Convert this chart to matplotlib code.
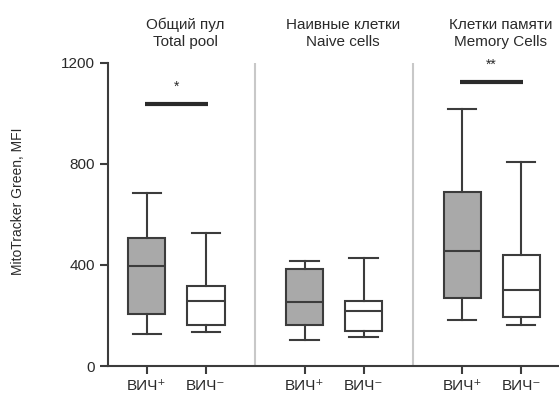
import numpy as np
import matplotlib.pyplot as plt

plt.rcParams['font.family'] = ['Liberation Sans Narrow', 'Liberation Sans', 'DejaVu Sans']

# data: whisker low, Q1, median, Q3, whisker high
groups = ['Общий пул\nTotal pool', 'Наивные клетки\nNaive cells', 'Клетки памяти\nMemory Cells']
tick_labels = ['ВИЧ⁺', 'ВИЧ⁻'] * 3
hiv_pos = [[127, 206, 396, 508, 685],
           [103, 162, 252, 384, 415],
           [182, 270, 455, 689, 1019]]
hiv_neg = [[133, 162, 259, 317, 528],
           [116, 139, 218, 259, 426],
           [162, 193, 301, 438, 807]]
sig_marks = ['*', '', '**']
sig_levels = [1036, None, 1123]

line_c = '#3c3c3c'
fill_c = ['#a9a9a9', 'white']

fig = plt.figure(figsize=(5.59, 3.98), dpi=100)
ax = fig.add_axes([0.193, 0.0804, 0.807, 0.7616])

gap = 2.67
stats = []
positions = []
for g in range(3):
    for k, d in enumerate([hiv_pos[g], hiv_neg[g]]):
        lo, q1, med, q3, hi = d
        stats.append(dict(whislo=lo, q1=q1, med=med, q3=q3, whishi=hi, fliers=[]))
        positions.append(g * gap + k)

bp = ax.bxp(stats, positions=positions, widths=0.63, patch_artist=True,
            showfliers=False, manage_ticks=False)
for i, box in enumerate(bp['boxes']):
    box.set_facecolor(fill_c[i % 2])
    box.set_edgecolor(line_c)
    box.set_linewidth(1.5)
for part in ['whiskers', 'caps', 'medians']:
    for ln in bp[part]:
        ln.set_color(line_c)
        ln.set_linewidth(1.5)
for cap in bp['caps']:
    cap.set_xdata(np.mean(cap.get_xdata()) + np.array([-0.24, 0.24]))

# group separators
for g in range(1, 3):
    ax.axvline(g * gap - 0.84, color='#c8c8c8', lw=1.5, zorder=0)

# significance bars
for g in range(3):
    if sig_levels[g] is None:
        continue
    x0 = g * gap
    ax.plot([x0 - 0.03, x0 + 1.03], [sig_levels[g]] * 2, color='#2a2a2a', lw=3,
            solid_capstyle='butt')
    ax.text(x0 + 0.5, sig_levels[g] + 40, sig_marks[g], ha='center', va='bottom',
            fontsize=10, color='#2a2a2a')

# group titles
for g in range(3):
    ax.text(g * gap + 0.65, 1.045, groups[g], transform=ax.get_xaxis_transform(),
            ha='center', va='bottom', fontsize=11, color='#2a2a2a', linespacing=1.3)

ax.set_xlim(-0.66, 6.98)
ax.set_ylim(0, 1200)
ax.set_yticks([0, 400, 800, 1200])
ax.set_xticks(positions)
ax.set_xticklabels(tick_labels)
ax.tick_params(colors=line_c, labelcolor='#2a2a2a', labelsize=11, width=1.5, length=6)
ax.tick_params(axis='x', pad=3)
for s in ['top', 'right']:
    ax.spines[s].set_visible(False)
for s in ['left', 'bottom']:
    ax.spines[s].set_color(line_c)
    ax.spines[s].set_linewidth(1.5)
ax.set_ylabel('MitoTracker Green, MFI', fontsize=10, color='#2a2a2a')
ax.yaxis.set_label_coords(-0.183, 0.545)

fig.savefig('out.png', dpi=100)
